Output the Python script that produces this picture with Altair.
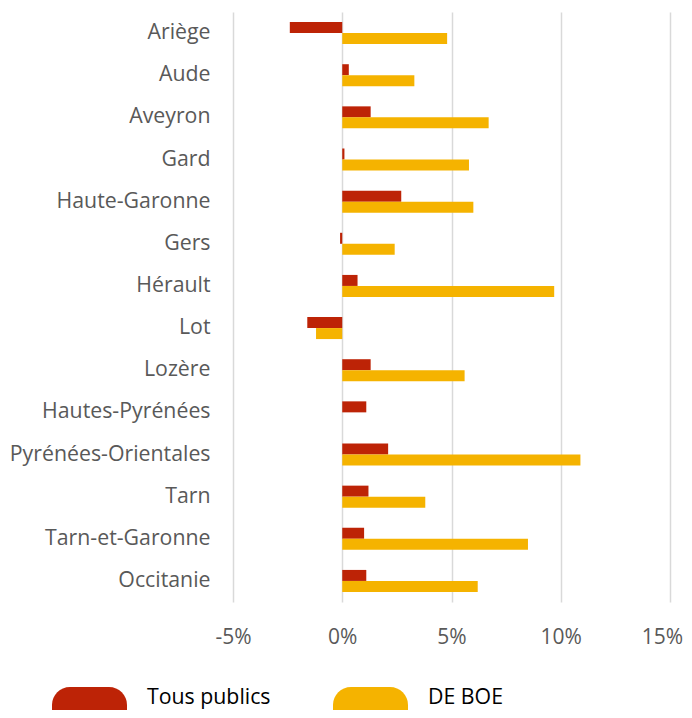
import altair as alt
import pandas as pd

categories = ["Ariège", "Aude", "Aveyron", "Gard", "Haute-Garonne", "Gers", "Hérault",
              "Lot", "Lozère", "Hautes-Pyrénées", "Pyrénées-Orientales", "Tarn",
              "Tarn-et-Garonne", "Occitanie"]
tous_publics = [-2.4, 0.3, 1.3, 0.1, 2.7, -0.1, 0.7, -1.6, 1.3, 1.1, 2.1, 1.2, 1.0, 1.1]
de_boe = [4.8, 3.3, 6.7, 5.8, 6.0, 2.4, 9.7, -1.2, 5.6, 0.0, 10.9, 3.8, 8.5, 6.2]
series = ["Tous publics", "DE BOE"]
colors = ["#BD2306", "#F5B300"]
x_ticks = [-5, 0, 5, 10, 15]

rows = []
for c, a, b in zip(categories, tous_publics, de_boe):
    rows.append({"cat": c, "serie": series[0], "val": a})
    rows.append({"cat": c, "serie": series[1], "val": b})
df = pd.DataFrame(rows)

FONT = "Open Sans"
pill = "M -1 1 L -1 0.2 A 0.48 0.48 0 0 1 -0.52 -0.28 L 0.52 -0.28 A 0.48 0.48 0 0 1 1 0.2 L 1 1 Z"

chart = alt.Chart(df).mark_bar().encode(
    y=alt.Y("cat:N", sort=categories, title=None,
            scale=alt.Scale(paddingInner=0.478, paddingOuter=0.239),
            axis=alt.Axis(ticks=False, domain=False, labelPadding=23, labelLimit=400,
                          labelFont=FONT, labelFontSize=21.3, labelColor="#595959")),
    yOffset=alt.YOffset("serie:N", sort=series,
                        scale=alt.Scale(domain=series, paddingInner=0, paddingOuter=0)),
    x=alt.X("val:Q", title=None,
            scale=alt.Scale(domain=[-5, 15], nice=False),
            axis=alt.Axis(values=x_ticks, labelExpr="datum.value + '%'",
                          ticks=False, domain=False, grid=True, labelFlush=False,
                          gridColor="#d9d9d9", gridWidth=1.5,
                          labelOffset={"condition": {"test": "datum.value == 15", "value": -8},
                                       "value": 0},
                          labelPadding=24, labelFont=FONT, labelFontSize=21,
                          labelColor="#595959")),
    color=alt.Color("serie:N", scale=alt.Scale(domain=series, range=colors),
                    legend=alt.Legend(title=None, orient="none", direction="horizontal",
                                      legendX=-181, legendY=648, padding=0,
                                      symbolType=pill, symbolSize=5625,
                                      symbolStrokeWidth=0, symbolOpacity=1,
                                      labelFont=FONT, labelFontSize=21.3,
                                      labelColor="#000000", labelOffset=20,
                                      columnPadding=62)),
).properties(
    width=437, height=590,
    autosize=alt.AutoSizeParams(type="none"),
    padding={"left": 225, "top": 4, "right": 14, "bottom": 108},
).configure_view(stroke=None)

chart.save("out.html", embed_options={"renderer": "svg", "actions": False})
